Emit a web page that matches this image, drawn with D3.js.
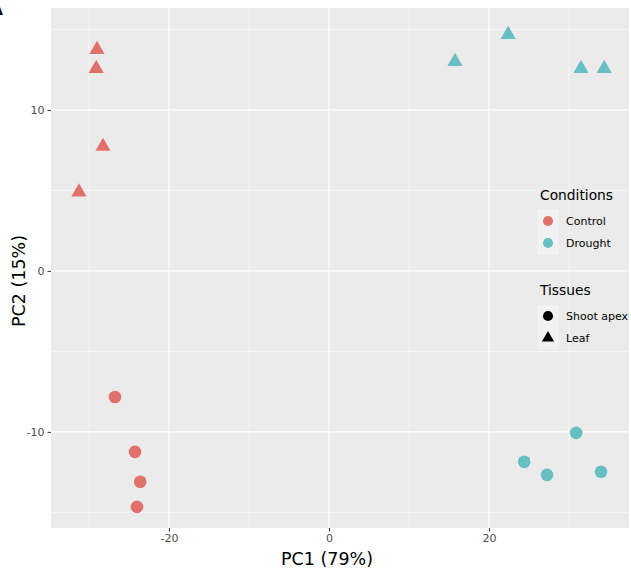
<!DOCTYPE html>
<html>
<head>
<meta charset="utf-8">
<script src="https://cdn.jsdelivr.net/npm/d3@7"></script>
<style>
  html, body { margin: 0; padding: 0; background: #fff; }
  svg { display: block; font-family: "DejaVu Sans", sans-serif; }
</style>
</head>
<body>
<svg id="chart" width="631" height="569"></svg>
<script>
// samples
const condition = ['Control', 'Control', 'Control', 'Control', 'Control', 'Control', 'Control', 'Control',
                   'Drought', 'Drought', 'Drought', 'Drought', 'Drought', 'Drought', 'Drought', 'Drought'];
const tissue = ['Leaf', 'Leaf', 'Leaf', 'Leaf', 'Shoot apex', 'Shoot apex', 'Shoot apex', 'Shoot apex',
                'Leaf', 'Leaf', 'Leaf', 'Leaf', 'Shoot apex', 'Shoot apex', 'Shoot apex', 'Shoot apex'];
const pc1 = [-29.0, -29.1, -28.25, -31.25, -26.75, -24.25, -23.6, -24.0,
             15.75, 22.4, 31.5, 34.4, 24.4, 27.25, 30.9, 34.0];
const pc2 = [13.75, 12.57, 7.73, 4.9, -7.83, -11.24, -13.1, -14.66,
             13.0, 14.68, 12.57, 12.57, -11.86, -12.67, -10.06, -12.48];

const conditions = ['Control', 'Drought'];
const tissues = ['Shoot apex', 'Leaf'];
const xTicks = [-20, 0, 20];
const xMinor = [-30, -10, 10, 30];
const yTicks = [-10, 0, 10];
const yMinor = [-15, -5, 5, 15];

const svg = d3.select('#chart');
const panel = { left: 51, right: 629, top: 8, bottom: 528 };

const x = d3.scaleLinear().domain([-34.75, 37.5]).range([panel.left, panel.right]);
const y = d3.scaleLinear().domain([16.33, -15.97]).range([panel.top, panel.bottom]);
const color = d3.scaleOrdinal().domain(conditions).range(['#e0706a', '#67bec3']);
const shape = d3.scaleOrdinal().domain(tissues).range([d3.symbolCircle, d3.symbolTriangle]);

// panel background + grid
svg.append('rect')
  .attr('x', panel.left).attr('y', panel.top)
  .attr('width', panel.right - panel.left).attr('height', panel.bottom - panel.top)
  .attr('fill', '#ebebeb');

const grid = svg.append('g').attr('stroke', '#fff');
grid.selectAll('.xminor').data(xMinor).enter().append('line')
  .attr('x1', d => x(d)).attr('x2', d => x(d))
  .attr('y1', panel.top).attr('y2', panel.bottom).attr('stroke-width', 0.6);
grid.selectAll('.yminor').data(yMinor).enter().append('line')
  .attr('y1', d => y(d)).attr('y2', d => y(d))
  .attr('x1', panel.left).attr('x2', panel.right).attr('stroke-width', 0.6);
grid.selectAll('.xmajor').data(xTicks).enter().append('line')
  .attr('x1', d => x(d)).attr('x2', d => x(d))
  .attr('y1', panel.top).attr('y2', panel.bottom).attr('stroke-width', 1.2);
grid.selectAll('.ymajor').data(yTicks).enter().append('line')
  .attr('y1', d => y(d)).attr('y2', d => y(d))
  .attr('x1', panel.left).attr('x2', panel.right).attr('stroke-width', 1.2);

// axes
const xAxis = svg.append('g')
  .attr('transform', 'translate(0,' + panel.bottom + ')')
  .call(d3.axisBottom(x).tickValues(xTicks).tickSize(3.5).tickPadding(3).tickFormat(d3.format('d')));
const yAxis = svg.append('g')
  .attr('transform', 'translate(' + panel.left + ',0)')
  .call(d3.axisLeft(y).tickValues(yTicks).tickSize(3.5).tickPadding(3).tickFormat(d3.format('d')));
[xAxis, yAxis].forEach(function(a) {
  a.select('.domain').remove();
  a.selectAll('line').attr('stroke', '#333');
  a.selectAll('text').attr('fill', '#4d4d4d').attr('font-size', 11)
    .attr('font-family', '"DejaVu Sans", sans-serif');
});
xAxis.selectAll('text').text(d => d < 0 ? '-' + Math.abs(d) : d);
yAxis.selectAll('text').text(d => d < 0 ? '-' + Math.abs(d) : d);

// points
const idx = d3.range(pc1.length);
svg.append('g').selectAll('path').data(idx).enter().append('path')
  .attr('transform', i => 'translate(' + x(pc1[i]) + ',' + y(pc2[i]) + ')')
  .attr('d', i => d3.symbol().type(shape(tissue[i])).size(tissue[i] === 'Leaf' ? 100 : 125)())
  .attr('fill', i => color(condition[i]));

// axis titles
svg.append('text').attr('x', 327).attr('y', 565).attr('text-anchor', 'middle')
  .attr('font-size', 17.5).attr('fill', '#000').text('PC1 (79%)');
svg.append('text').attr('transform', 'translate(25,281) rotate(-90)').attr('text-anchor', 'middle')
  .attr('font-size', 17.5).attr('fill', '#000').text('PC2 (15%)');

// panel tag (cut off at the left edge, as in the source figure)
svg.append('text').attr('x', -11).attr('y', 15).attr('font-size', 18)
  .attr('font-weight', 'bold').attr('fill', '#000').text('A');

// legends
function legend(top, title, keys, drawKey) {
  const g = svg.append('g');
  g.append('text').attr('x', 540).attr('y', top).attr('font-size', 13.8).attr('fill', '#000').text(title);
  g.append('rect').attr('x', 537).attr('y', top + 10).attr('width', 22).attr('height', 22 * keys.length)
    .attr('fill', '#f2f2f2');
  keys.forEach(function(k, i) {
    const cy = top + 21 + i * 22;
    drawKey(g, k, cy);
    g.append('text').attr('x', 566).attr('y', cy + 4).attr('font-size', 11)
      .attr('fill', '#000').text(k);
  });
}
legend(200, 'Conditions', conditions, function(g, k, cy) {
  g.append('path').attr('transform', 'translate(548,' + cy + ')')
    .attr('d', d3.symbol().type(d3.symbolCircle).size(80)()).attr('fill', color(k));
});
legend(295, 'Tissues', tissues, function(g, k, cy) {
  g.append('path').attr('transform', 'translate(548,' + cy + ')')
    .attr('d', d3.symbol().type(shape(k)).size(k === 'Leaf' ? 65 : 80)()).attr('fill', '#000');
});
</script>
</body>
</html>
